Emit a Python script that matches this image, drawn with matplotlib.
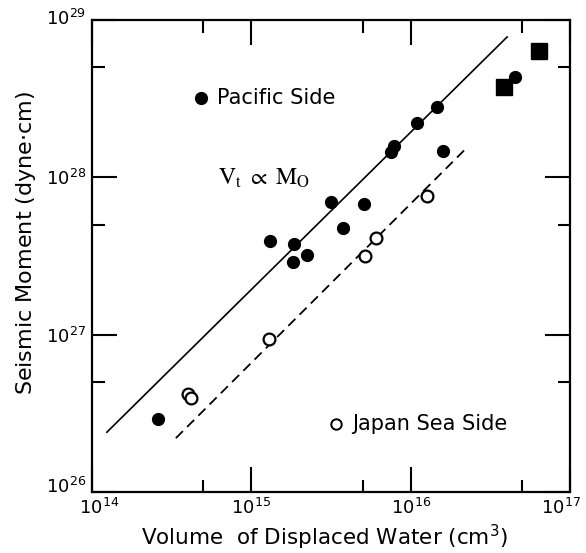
import matplotlib
matplotlib.use("Agg")
import matplotlib.pyplot as plt
import matplotlib.transforms as mtransforms
from matplotlib.ticker import LogLocator, FixedLocator, NullFormatter

# Pacific side (filled dots)
pac_vol = [2.6e14, 1.31e15, 1.85e15, 2.24e15, 1.83e15, 3.16e15, 3.77e15, 5.1e15,
           7.53e15, 7.87e15, 1.10e16, 1.47e16, 1.60e16, 4.52e16]
pac_mo = [2.9e26, 3.94e27, 3.77e27, 3.2e27, 2.9e27, 6.97e27, 4.76e27, 6.76e27,
          1.45e28, 1.58e28, 2.21e28, 2.8e28, 1.47e28, 4.35e28]

# large events (filled squares)
sq_vol = [3.86e16, 6.4e16]
sq_mo = [3.75e28, 6.35e28]

# Japan Sea side (open circles)
jap_vol = [4.0e14, 4.18e14, 1.29e15, 5.17e15, 6.07e15, 1.27e16]
jap_mo = [4.19e26, 3.95e26, 9.38e26, 3.16e27, 4.11e27, 7.6e27]

# fitted lines (end points)
pac_line_x = [1.24e14, 4.03e16]
pac_line_y = [2.4e26, 7.8e28]
jap_line_x = [3.36e14, 2.19e16]
jap_line_y = [2.2e26, 1.5e28]

fig = plt.figure(figsize=(5.86, 5.53), dpi=100)
ax = fig.add_axes([92/586, 1-492/553, 478/586, 472/553])

ax.plot(pac_line_x, pac_line_y, color='k', lw=1.2)
ax.plot(jap_line_x, jap_line_y, color='k', lw=1.3, linestyle=(0, (5.5, 3.3)))

ax.plot(pac_vol, pac_mo, 'o', color='k', ms=8.5, ls='none')
ax.plot(sq_vol, sq_mo, 's', color='k', ms=11, ls='none')
ax.plot(jap_vol, jap_mo, 'o', mfc='white', mec='k', mew=1.6, ms=8.5, ls='none')

ax.set_xscale('log')
ax.set_yscale('log')
ax.set_xlim(1e14, 1e17)
ax.set_ylim(1e26, 1e29)

ax.xaxis.set_major_locator(LogLocator(base=10))
ax.yaxis.set_major_locator(LogLocator(base=10))
ax.xaxis.set_minor_locator(FixedLocator([5e14, 5e15, 5e16]))
ax.yaxis.set_minor_locator(FixedLocator([5e26, 5e27, 5e28]))
ax.xaxis.set_minor_formatter(NullFormatter())
ax.yaxis.set_minor_formatter(NullFormatter())

ax.tick_params(which='both', direction='in', top=True, right=True, width=1.5,
               labelsize=13, pad=4)
ax.tick_params(which='major', length=18)
ax.tick_params(which='minor', length=9)
for s in ax.spines.values():
    s.set_linewidth(1.6)

ax.set_xlabel('Volume  of Displaced Water (cm$^3$)', fontsize=15.5, va='center')
ax.xaxis.set_label_coords(0.487, -0.097)
ax.set_ylabel('Seismic Moment (dyne$\\cdot$cm)', fontsize=16, va='center')
ax.yaxis.set_label_coords(-0.138, 0.527)

# nudge the corner tick labels like in the original (offsets in pixels)
fig.canvas.draw()
def nudge(lab, dx, dy):
    lab.set_transform(lab.get_transform() +
                      mtransforms.ScaledTranslation(dx/100, dy/100, fig.dpi_scale_trans))

for t in ax.xaxis.get_major_ticks():
    if abs(t.get_loc() / 1e14 - 1) < 1e-6:
        nudge(t.label1, 7, 0)
    if abs(t.get_loc() / 1e17 - 1) < 1e-6:
        nudge(t.label1, -9, 0)
for t in ax.yaxis.get_major_ticks():
    if abs(t.get_loc() / 1e26 - 1) < 1e-6:
        nudge(t.label1, 0, 7)
    if abs(t.get_loc() / 1e29 - 1) < 1e-6:
        nudge(t.label1, 0, 3)

# in-plot legend entries
ax.plot([0.228], [0.835], 'o', color='k', ms=8.5, transform=ax.transAxes)
ax.text(0.262, 0.835, 'Pacific Side', transform=ax.transAxes, fontsize=15,
        va='center', ha='left')
ax.plot([0.510], [0.144], 'o', mfc='white', mec='k', mew=1.4, ms=7.5,
        transform=ax.transAxes)
ax.text(0.544, 0.144, 'Japan Sea Side', transform=ax.transAxes, fontsize=15,
        va='center', ha='left')
ax.text(0.264, 0.665, r'$\mathrm{V_t}\ \propto\ \mathrm{M_O}$', transform=ax.transAxes,
        fontsize=17, va='center', ha='left', math_fontfamily='stix')

fig.savefig('out.png', dpi=100)
